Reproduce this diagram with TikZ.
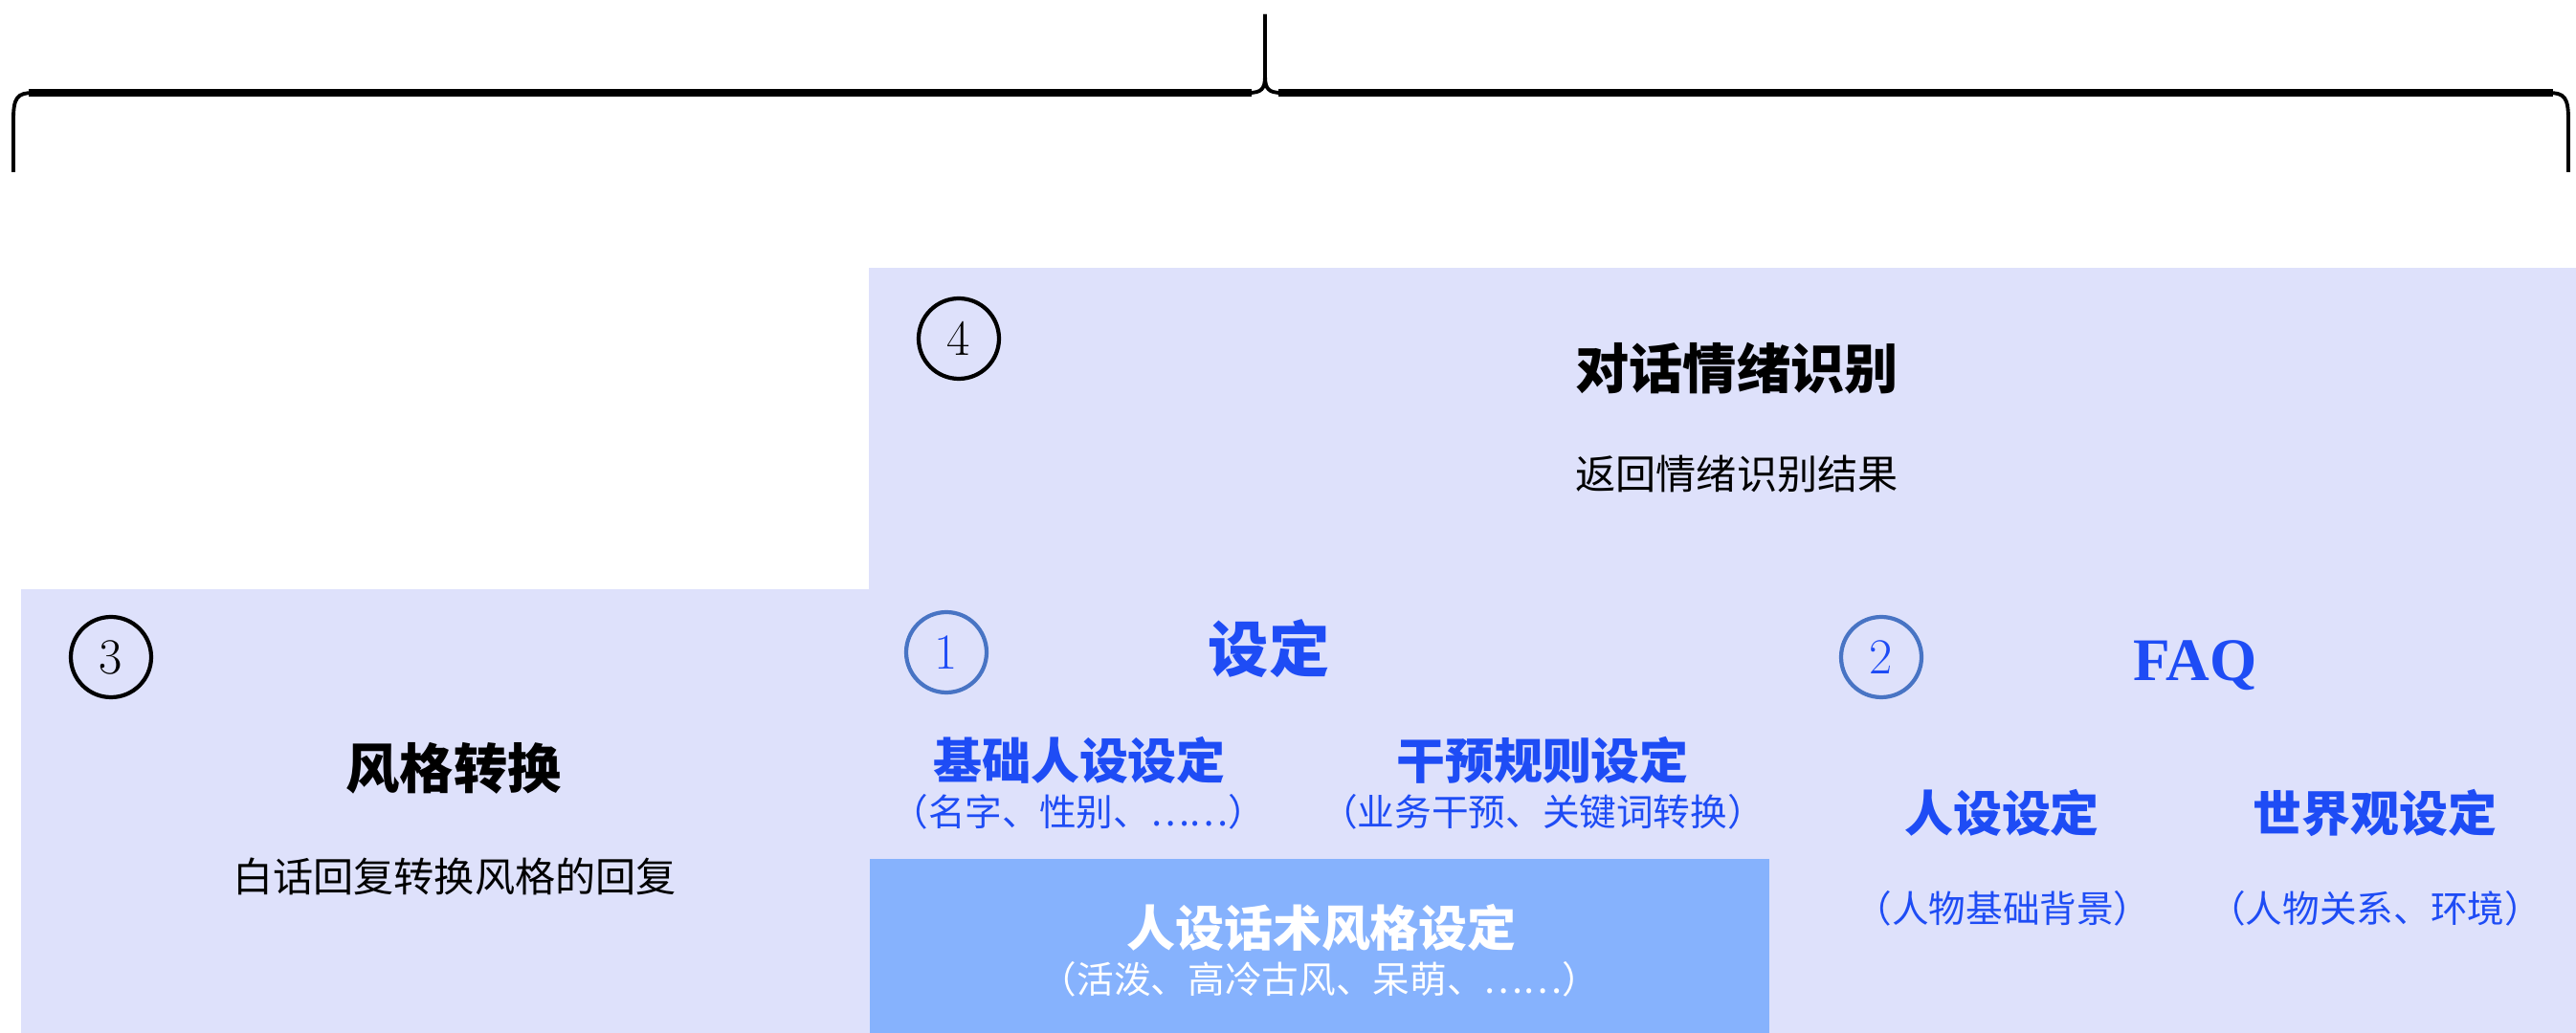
\documentclass[tikz,border=0pt]{standalone}
\usepackage{fontspec}
\newfontfamily\cjk{Noto Sans CJK SC}
\newfontfamily\faqfont{Liberation Serif}
\definecolor{panelbg}{RGB}{222, 225, 251}
\definecolor{stylebg}{RGB}{134, 178, 253}
\definecolor{headblue}{RGB}{30, 76, 245}
\definecolor{ringblue}{RGB}{72, 116, 196}
\usepackage{tikz}
\usetikzlibrary{positioning, calc}

\tikzset{
  numring/.style={draw, circle, line width=1.2pt, minimum size=0.84cm, inner sep=0pt, font=\fontsize{15}{15}\selectfont},
  bigtitle/.style={font=\cjk\bfseries\fontsize{16}{19}\selectfont},
  subline/.style={font=\cjk\fontsize{12}{14}\selectfont},
  bluehead/.style={text=headblue, font=\cjk\bfseries\fontsize{14.5}{17}\selectfont},
  bluenote/.style={text=headblue, font=\cjk\fontsize{11}{13}\selectfont}
}

\begin{document}
\begin{tikzpicture}
  \useasboundingbox (0, 0) rectangle (26.92, -10.80);

  % ===== Brace =====
  \coordinate (brl) at (0.14, -1.80);
  \coordinate (brm) at (13.22, -0.15);
  \coordinate (brr) at (26.84, -1.80);
  \draw[line width=1.1pt] (brl) -- (0.14, -1.25) .. controls (0.14, -1.02) and (0.18, -0.97) .. (0.35, -0.97)
    -- (13.05, -0.97) .. controls (13.18, -0.97) and (13.22, -0.93) .. (13.22, -0.80) -- (brm);
  \draw[line width=1.1pt] (brm) -- (13.22, -0.80) .. controls (13.22, -0.93) and (13.26, -0.97) .. (13.39, -0.97)
    -- (26.63, -0.97) .. controls (26.80, -0.97) and (26.84, -1.02) .. (26.84, -1.25) -- (brr);
  \draw[line width=2.4pt] (0.30, -0.97) -- (13.08, -0.97);
  \draw[line width=2.4pt] (13.36, -0.97) -- (26.68, -0.97);

  % ===== Panels =====
  \fill[panelbg] (9.08, -2.80) rectangle (26.92, -10.80);
  \fill[panelbg] (0.22, -6.16) rectangle (9.09, -10.80);
  \fill[stylebg] (9.09, -8.98) rectangle (18.49, -10.80);

  % ===== 4: emotion =====
  \node[numring] (n4) at (10.02, -3.54) {4};
  \node[bigtitle] (emo) at (18.15, -3.85) {对话情绪识别};
  \node[subline] (emosub) at (18.15, -4.96) {返回情绪识别结果};

  % ===== 3: style transfer =====
  \node[numring] (n3) at (1.16, -6.87) {3};
  \node[bigtitle] (sty) at (4.74, -8.03) {风格转换};
  \node[subline] (stysub) at (4.75, -9.16) {白话回复转换风格的回复};

  % ===== 1: settings =====
  \node[numring, draw=ringblue, text=headblue] (n1) at (9.89, -6.82) {1};
  \node[text=headblue, font=\cjk\bfseries\fontsize{18}{21}\selectfont] (set) at (13.26, -6.78) {设定};
  \node[bluehead] (base) at (11.28, -7.95) {基础人设设定};
  \node[bluenote] (basesub) at (11.27, -8.49) {（名字、性别、……）};
  \node[bluehead] (rule) at (16.12, -7.95) {干预规则设定};
  \node[bluenote] (rulesub) at (16.12, -8.49) {（业务干预、关键词转换）};
  \node[bluehead, text=white] (talk) at (13.81, -9.70) {人设话术风格设定};
  \node[bluenote, text=white] (talksub) at (13.79, -10.24) {（活泼、高冷古风、呆萌、……）};

  % ===== 2: FAQ =====
  \node[numring, draw=ringblue, text=headblue] (n2) at (19.66, -6.87) {2};
  \node[anchor=base, text=headblue, font=\faqfont\bfseries\fontsize{18}{21}\selectfont] (faq) at (22.94, -7.12) {FAQ};
  \node[bluehead] (role) at (20.92, -8.50) {人设设定};
  \node[bluenote] (rolesub) at (20.93, -9.50) {（人物基础背景）};
  \node[bluehead] (world) at (24.82, -8.50) {世界观设定};
  \node[bluenote] (worldsub) at (24.82, -9.50) {（人物关系、环境）};
\end{tikzpicture}
\end{document}
